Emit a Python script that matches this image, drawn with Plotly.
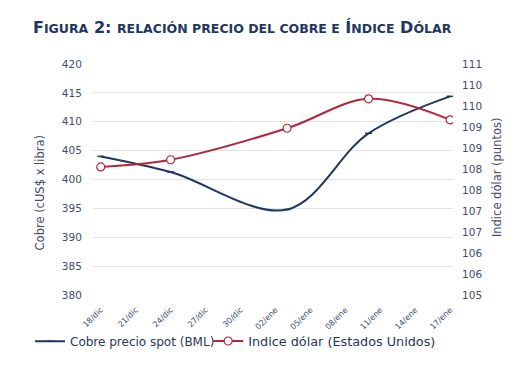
import plotly.graph_objects as go

# ---- data ----
dates = ["2014-12-18", "2014-12-24", "2015-01-03", "2015-01-10", "2015-01-17"]
cobre = [404.0, 401.3, 394.8, 408.0, 414.4]
indice = [108.05, 108.22, 108.97, 109.67, 109.17]

x_tick_vals = ["2014-12-18", "2014-12-21", "2014-12-24", "2014-12-27", "2014-12-30",
               "2015-01-02", "2015-01-05", "2015-01-08", "2015-01-11", "2015-01-14",
               "2015-01-17"]
x_tick_text = ["18/dic", "21/dic", "24/dic", "27/dic", "30/dic",
               "02/ene", "05/ene", "08/ene", "11/ene", "14/ene", "17/ene"]

left_tick_vals = [380, 385, 390, 395, 400, 405, 410, 415, 420]
right_tick_vals = [105, 105.5, 106, 106.5, 107, 107.5, 108, 108.5, 109, 109.5, 110, 110.5]
right_tick_text = ["105", "106", "106", "107", "107", "108", "108", "109", "109", "110", "110", "111"]

left_title = "Cobre (cUS$ x libra)"
right_title = "Indice dólar (puntos)"

navy = "#1F3760"
red = "#B5263A"
tick_col = "#434C6A"
FONT = "DejaVu Sans"

fig = go.Figure()
fig.add_trace(go.Scatter(
    x=dates, y=cobre, name="Cobre precio spot (BML)",
    mode="lines+markers", line=dict(color=navy, width=2, shape="spline", smoothing=1.0),
    marker=dict(symbol="line-ew", size=5, color=navy, line=dict(color=navy, width=1.5)),
    yaxis="y", legend="legend"))
fig.add_trace(go.Scatter(
    x=dates, y=indice, name="Indice dólar (Estados Unidos)",
    mode="lines+markers", line=dict(color=red, width=2, shape="spline", smoothing=1.0),
    marker=dict(symbol="circle", size=8, color="white", line=dict(color=red, width=1.2)),
    yaxis="y2", legend="legend2"))

title_txt = ("F<span style='font-size:12.5px'>IGURA</span> 2: "
             "<span style='font-size:12.5px'>RELACIÓN PRECIO DEL COBRE E</span> "
             "Í<span style='font-size:12.5px'>NDICE</span> "
             "D<span style='font-size:12.5px'>ÓLAR</span>")

leg_font = dict(family=FONT, size=12, color=navy)
ttl_font = dict(family=FONT, size=11.5, color=tick_col)

fig.update_layout(
    width=516, height=361,
    margin=dict(l=85, r=71, t=56, b=74, autoexpand=False),
    paper_bgcolor="white", plot_bgcolor="white",
    font=dict(family=FONT, color=tick_col, size=9),
    showlegend=True,
    legend=dict(orientation="h", x=-0.175, xanchor="left", y=-0.2, yanchor="middle",
                font=leg_font, itemwidth=30, bgcolor="rgba(0,0,0,0)"),
    legend2=dict(orientation="h", x=0.32, xanchor="left", y=-0.2, yanchor="middle",
                 font=dict(family=FONT, size=12.8, color=navy), itemwidth=30,
                 bgcolor="rgba(0,0,0,0)"),
    annotations=[
        dict(text=title_txt, xref="paper", yref="paper", x=-0.172, y=1.16,
             xanchor="left", yanchor="middle", showarrow=False,
             font=dict(family=FONT, size=16, color=navy, weight="bold")),
        dict(text=left_title, xref="paper", yref="paper", x=-0.147, y=0.44,
             xanchor="center", yanchor="middle", showarrow=False, textangle=-90,
             font=ttl_font),
        dict(text=right_title, xref="paper", yref="paper", x=1.122, y=0.51,
             xanchor="center", yanchor="middle", showarrow=False, textangle=-90,
             font=ttl_font),
    ],
    xaxis=dict(type="date", range=["2014-12-17 08:00", "2015-01-17 06:00"],
               tickvals=x_tick_vals, ticktext=x_tick_text, tickangle=-45,
               tickfont=dict(size=8, color=tick_col), showgrid=False,
               showline=False, zeroline=False, ticks="outside", ticklen=6,
               tickcolor="rgba(0,0,0,0)"),
    yaxis=dict(range=[380, 420], tickvals=left_tick_vals, showgrid=True,
               gridcolor="#E3E3E3", gridwidth=1, zeroline=False,
               ticks="outside", ticklen=8, tickcolor="rgba(0,0,0,0)",
               tickfont=dict(size=10.5, color=tick_col)),
    yaxis2=dict(range=[105, 110.5], tickvals=right_tick_vals, ticktext=right_tick_text,
                overlaying="y", side="right", showgrid=False, zeroline=False,
                ticks="outside", ticklen=6, tickcolor="rgba(0,0,0,0)",
                tickfont=dict(size=10.5, color=tick_col)),
)

fig.write_html("out.html")
